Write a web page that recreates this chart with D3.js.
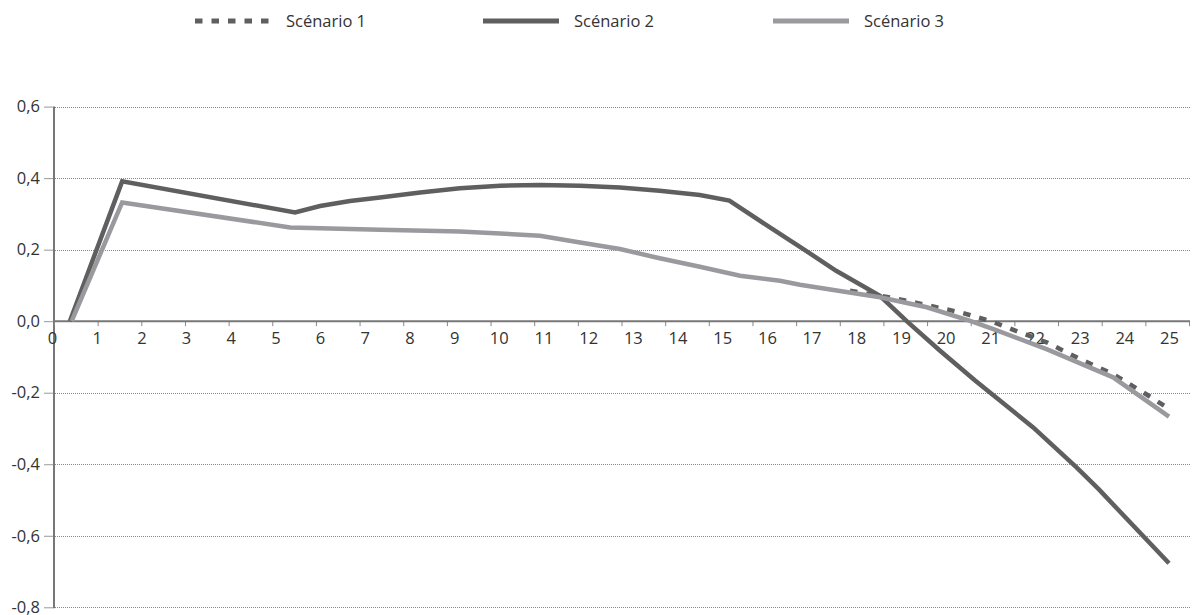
<!DOCTYPE html>
<html>
<head>
<meta charset="utf-8">
<script src="https://cdn.jsdelivr.net/npm/d3@7"></script>
<style>
  html, body { margin: 0; padding: 0; background: #fff; }
  svg { display: block; font-family: "Open Sans", "Noto Sans", sans-serif; }
</style>
</head>
<body>
<svg id="chart" width="1192" height="615"></svg>
<script>
// ---- data (x in years, y values) ----
const seriesNames = ["Scénario 1", "Scénario 2", "Scénario 3"];
const xTickLabels = d3.range(0, 26);
const yTickValues = [-0.8, -0.6, -0.4, -0.2, 0.0, 0.2, 0.4, 0.6];

const scenario1 = [
  [17.86, 0.085], [18.83, 0.065], [19.65, 0.043], [20.32, 0.025], [20.99, 0.001],
  [21.66, -0.031], [22.26, -0.059], [23.01, -0.106], [23.75, -0.148], [24.5, -0.205], [25.0, -0.245]
];
const scenario2 = [
  [0.40, 0.0], [1.57, 0.391], [5.44, 0.304], [6.0, 0.322], [6.67, 0.336], [7.34, 0.346],
  [8.24, 0.360], [9.13, 0.372], [10.03, 0.379], [10.92, 0.381], [11.82, 0.379], [12.71, 0.374],
  [13.6, 0.365], [14.5, 0.353], [15.16, 0.337], [16.0, 0.268], [16.74, 0.208], [17.55, 0.141],
  [18.53, 0.071], [19.13, 0.0], [19.87, -0.082], [20.66, -0.166], [21.96, -0.297],
  [22.93, -0.409], [23.42, -0.469], [25.0, -0.677]
];
const scenario3 = [
  [0.44, 0.0], [1.57, 0.332], [5.33, 0.262], [7.34, 0.256], [9.13, 0.251], [10.92, 0.239],
  [11.82, 0.220], [12.71, 0.202], [13.6, 0.176], [14.5, 0.152], [15.4, 0.127], [16.29, 0.113],
  [16.74, 0.102], [18.53, 0.067], [19.58, 0.039], [20.55, 0.001], [21.07, -0.022],
  [22.26, -0.078], [23.75, -0.157], [25.0, -0.267]
];

// ---- setup ----
const svg = d3.select("#chart");
const textColor = "#333";
const axisColor = "#777";
const fontSize = "16.5px";

const x = d3.scaleLinear().domain([0, 25]).range([52, 1169]);
const xTickScale = d3.scaleLinear().domain([0, 26]).range([54, 1189]);
const y = d3.scaleLinear().domain([-0.8, 0.6]).range([607.3, 106.6]);

const locale = d3.formatLocale({decimal: ",", thousands: " ", grouping: [3], currency: ["", "€"], minus: "-"});
const fmt = locale.format(".1f");

// gridlines
svg.append("g").selectAll("line")
  .data(yTickValues.filter(v => v !== 0))
  .join("line")
  .attr("x1", 55).attr("x2", 1190)
  .attr("y1", d => Math.round(y(d)) + 0.5).attr("y2", d => Math.round(y(d)) + 0.5)
  .attr("stroke", "#888").attr("stroke-width", 1).attr("stroke-dasharray", "1,1");

// y axis
const yAxis = d3.axisLeft(y).tickValues(yTickValues).tickSize(9).tickPadding(4).tickFormat(fmt);
const gy = svg.append("g").attr("transform", "translate(53,0)").call(yAxis);
gy.select(".domain").remove();
gy.selectAll(".tick line").attr("stroke", "#999").attr("stroke-width", 1);
gy.selectAll(".tick text").attr("fill", textColor).style("font-size", fontSize)
  .style("font-family", "'Open Sans', sans-serif").attr("x", -13);
svg.append("line").attr("x1", 54).attr("x2", 54).attr("y1", y(0.6)).attr("y2", y(-0.8) + 1)
  .attr("stroke", axisColor).attr("stroke-width", 2);

// x axis tick marks
const xTicks = d3.axisBottom(xTickScale).tickValues(d3.range(27)).tickSize(5).tickFormat("");
const gxt = svg.append("g").attr("transform", `translate(0,${y(0)})`).call(xTicks);
gxt.select(".domain").remove();
gxt.selectAll(".tick line").attr("stroke", "#888").attr("stroke-width", 1);

// x axis labels
const xLabels = d3.axisBottom(x).tickValues(xTickLabels).tickSize(0).tickPadding(11).tickFormat(d => String(d));
const gxl = svg.append("g").attr("transform", `translate(0,${y(0)})`).call(xLabels);
gxl.select(".domain").remove();
gxl.selectAll(".tick text").attr("fill", textColor).style("font-size", fontSize)
  .style("font-family", "'Open Sans', sans-serif");

// x axis line
svg.append("line").attr("x1", 54).attr("x2", 1190).attr("y1", y(0)).attr("y2", y(0))
  .attr("stroke", axisColor).attr("stroke-width", 2);

// lines
const lineGen = d3.line().x(d => x(d[0])).y(d => y(d[1]));
const styles = [
  {data: scenario1, color: "#5f5f5f", dash: "7.5,9"},
  {data: scenario2, color: "#5f5f5f", dash: null},
  {data: scenario3, color: "#9a9a9e", dash: null}
];
styles.forEach(s => {
  svg.append("path").attr("d", lineGen(s.data))
    .attr("fill", "none").attr("stroke", s.color).attr("stroke-width", 4.5)
    .attr("stroke-linejoin", "miter").attr("stroke-dasharray", s.dash);
});

// legend
const legendX = [195, 483, 773];
const lg = svg.append("g");
seriesNames.forEach((name, i) => {
  const s = styles[i];
  lg.append("line").attr("x1", legendX[i]).attr("x2", legendX[i] + 76)
    .attr("y1", 21).attr("y2", 21)
    .attr("stroke", s.color).attr("stroke-width", 5).attr("stroke-dasharray", s.dash);
  lg.append("text").attr("x", legendX[i] + 91).attr("y", 27)
    .attr("fill", textColor).style("font-size", fontSize).text(name);
});
</script>
</body>
</html>
